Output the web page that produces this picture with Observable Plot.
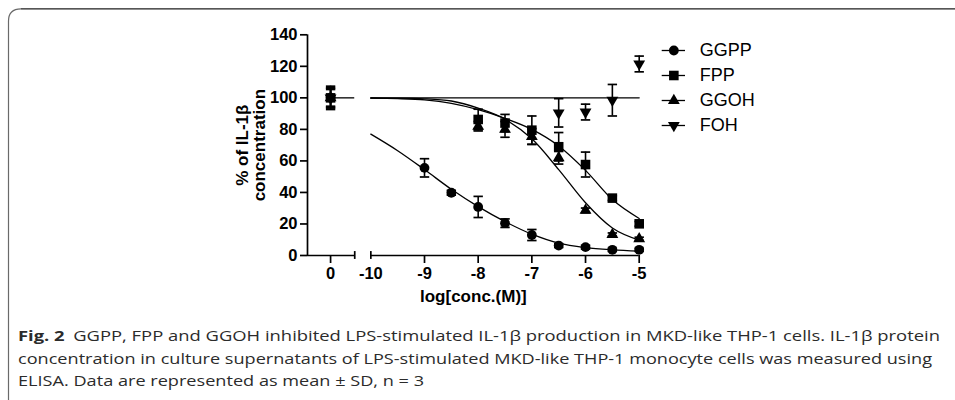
<!DOCTYPE html>
<html><head><meta charset="utf-8">
<script src="https://cdn.jsdelivr.net/npm/d3@7"></script>
<script src="https://cdn.jsdelivr.net/npm/@observablehq/plot@0.6"></script>
<style>
html,body{margin:0;padding:0;background:#fff;}
#wrap{position:relative;width:955px;height:400px;overflow:hidden;background:#fff;}
#chart{position:absolute;left:0;top:0;}
#legend{position:absolute;left:655px;top:30px;}
#overlay{position:absolute;left:0;top:0;pointer-events:none;}
</style></head><body>
<div id="wrap"><div id="chart"></div><div id="legend"></div>
<svg id="overlay" width="955" height="400" xmlns="http://www.w3.org/2000/svg">
  <path d="M8.5,400 L8.5,21 Q8.5,8.8 21,8.8" fill="none" stroke="#6a6a6a" stroke-width="1.2"/>
  <path d="M21,8.8 L955,8.8" fill="none" stroke="#1e1e1e" stroke-width="1.2"/>
  <g font-family="'Open Sans', 'Noto Sans', sans-serif" font-size="15" fill="#2b2b2b">
    <text x="18" y="341" textLength="922" lengthAdjust="spacingAndGlyphs"><tspan font-weight="bold">Fig. 2</tspan><tspan dx="7">GGPP, FPP and GGOH inhibited LPS-stimulated IL-1β production in MKD-like THP-1 cells. IL-1β protein</tspan></text>
    <text x="18" y="363.5" textLength="914" lengthAdjust="spacingAndGlyphs">concentration in culture supernatants of LPS-stimulated MKD-like THP-1 monocyte cells was measured using</text>
    <text x="18" y="386" textLength="406" lengthAdjust="spacingAndGlyphs">ELISA. Data are represented as mean ± SD, n = 3</text>
  </g>
</svg>
</div>
<script>
// ---- data ----
const seriesNames = ["GGPP", "FPP", "GGOH", "FOH"];

const doseGGPP = [-9, -8.5, -8, -7.5, -7, -6.5, -6, -5.5, -5];
const meanGGPP = [55.6, 39.8, 30.8, 20.5, 13.0, 6.3, 5.3, 3.6, 3.6];
const sdGGPP   = [5.8, 1.5, 6.7, 2.7, 3.5, 1.2, 1.2, 1.0, 1.0];

const doseFPP = [-8, -7.5, -7, -6.5, -6, -5.5, -5];
const meanFPP = [86.3, 84.0, 79.5, 69.0, 57.7, 36.4, 20.1];
const sdFPP   = [6.5, 5.5, 9.0, 9.0, 7.9, 1.5, 1.5];

const doseGGOH = [-8, -7.5, -7, -6.5, -6, -5.5, -5];
const meanGGOH = [82.0, 80.0, 75.5, 62.0, 28.6, 13.3, 10.6];
const sdGGOH   = [3.0, 5.0, 5.0, 4.0, 1.5, 1.0, 1.0];

const doseFOH = [-6.5, -6, -5.5, -5];
const meanFOH = [90.5, 91.0, 98.5, 121.5];
const sdFOH   = [9.0, 5.0, 10.0, 5.0];

// untreated control (x label "0")
const ctrlMean = [100, 100, 100, 100];
const ctrlSD   = [7.4, 5.3, 6.5, 6.0];

// fitted curves
const fitX    = [-10, -9.5, -9, -8.5, -8, -7.5, -7, -6.5, -6, -5.5, -5];
const fitGGPP = [77, 66.5, 54.5, 42, 31, 21.5, 13.5, 7.8, 5.0, 3.6, 2.8];
const fitFPP  = [99.8, 99.5, 98.7, 96.5, 92.5, 87, 80, 69.5, 54, 35.5, 23.5];
const fitGGOH = [99.9, 99.8, 99.4, 98, 93.5, 86.5, 74, 54.5, 33.5, 17.5, 9.8];
const fitFOH  = [100, 100, 100, 100, 100, 100, 100, 100, 100, 100, 100];

const xTickValues = [0, -10, -9, -8, -7, -6, -5];
const yTickValues = [0, 20, 40, 60, 80, 100, 120, 140];

// ---- broken x axis: virtual coordinate ----
const SEG1 = [-11.18, -10.30];   // control segment
const SEG2 = [-10, -5];          // log-dose segment
const CTRL_V = -10.75;           // where "0" sits
const vx = v => v === 0 ? CTRL_V : v;
const BREAK_HALF = 2.5;          // break mark half-height (y units)

// ---- symbols ----
const sqrt3 = Math.sqrt(3);
const triangleDown = {draw(ctx, size) {
  const y = -Math.sqrt(size / (sqrt3 * 3));
  ctx.moveTo(0, -y * 2); ctx.lineTo(-sqrt3 * y, y); ctx.lineTo(sqrt3 * y, y); ctx.closePath();
}};
const capSymbol = {draw(ctx) { ctx.moveTo(-4.7, 0); ctx.lineTo(4.7, 0); }};

const symbolOf = {GGPP: "circle", FPP: "square", GGOH: "triangle", FOH: triangleDown};
const radiusOf = {GGPP: 4.9, FPP: 5.4, GGOH: 4.4, FOH: 4.4};

// ---- rows ----
const seriesData = {
  GGPP: [doseGGPP, meanGGPP, sdGGPP],
  FPP: [doseFPP, meanFPP, sdFPP],
  GGOH: [doseGGOH, meanGGOH, sdGGOH],
  FOH: [doseFOH, meanFOH, sdFOH]
};
const fitData = {GGPP: fitGGPP, FPP: fitFPP, GGOH: fitGGOH, FOH: fitFOH};

const points = [];
seriesNames.forEach((s, k) => {
  points.push({series: s, x: vx(0), m: ctrlMean[k], sd: ctrlSD[k]});
  const [d, m, sd] = seriesData[s];
  d.forEach((x, i) => points.push({series: s, x: vx(x), m: m[i], sd: sd[i]}));
});
const fits = [];
seriesNames.forEach(s => fitX.forEach((x, i) => fits.push({series: s, x, y: fitData[s][i]})));

const drawOrder = ["FOH", "GGOH", "GGPP", "FPP"];
const AX = 1.7;

const marks = [
  // axis lines
  Plot.ruleY([0], {x1: SEG1[0], x2: SEG1[1], strokeWidth: AX}),
  Plot.ruleY([0], {x1: SEG2[0], x2: SEG2[1], strokeWidth: AX}),
  Plot.ruleX([SEG1[0]], {y1: yTickValues[0], y2: yTickValues[yTickValues.length - 1], strokeWidth: AX}),
  Plot.ruleX([SEG1[1], SEG2[0]], {y1: -BREAK_HALF, y2: BREAK_HALF, strokeWidth: AX}),
  Plot.axisY(yTickValues, {tickSize: 7, tickPadding: 3, strokeWidth: AX, label: null}),
  Plot.axisX(xTickValues.filter(v => v !== -10).map(vx), {tickSize: 8, tickPadding: 4, strokeWidth: AX,
    tickFormat: v => v === CTRL_V ? "0" : String(v), label: null}),
  Plot.axisX([-10], {tickSize: 0, tickPadding: 12, tickFormat: v => String(v), label: null}),
  // fitted curves
  ...seriesNames.map(s => Plot.line(fits.filter(d => d.series === s), {x: "x", y: "y", curve: "monotone-x", stroke: "black", strokeWidth: 1.3})),
  // control line
  Plot.ruleY([ctrlMean[0]], {x1: CTRL_V, x2: SEG1[1], stroke: "black", strokeWidth: 1.3}),
  // error bars
  Plot.ruleX(points, {x: "x", y1: d => d.m - d.sd, y2: d => d.m + d.sd, stroke: "black", strokeWidth: 1.6}),
  Plot.dot(points, {x: "x", y: d => d.m + d.sd, symbol: capSymbol, fill: "none", stroke: "black", strokeWidth: 1.7}),
  Plot.dot(points, {x: "x", y: d => d.m - d.sd, symbol: capSymbol, fill: "none", stroke: "black", strokeWidth: 1.7}),
  // markers
  ...drawOrder.map(s => Plot.dot(points.filter(d => d.series === s), {x: "x", y: "m", symbol: symbolOf[s], r: radiusOf[s], fill: "black", stroke: "none"})),
  // axis titles
  Plot.text(["log[conc.(M)]"], {frameAnchor: "bottom", dy: 41, lineAnchor: "middle", textAnchor: "middle", fontSize: 17, fontWeight: "bold"}),
  Plot.text(["% of IL-1β\nconcentration"], {frameAnchor: "left", rotate: -90, dx: -56, lineHeight: 1.0, lineAnchor: "middle", textAnchor: "middle", fontSize: 17, fontWeight: "bold"})
];

const chart = Plot.plot({
  width: 955, height: 310,
  marginLeft: 307, marginRight: 316.3, marginTop: 34.3, marginBottom: 55,
  x: {domain: [SEG1[0], SEG2[1]], axis: null},
  y: {domain: [yTickValues[0], yTickValues[yTickValues.length - 1]], axis: null},
  style: {fontFamily: "'Liberation Sans', Arial, sans-serif", fontSize: "16.5px", fontWeight: "bold", color: "black", background: "transparent"},
  marks
});
document.getElementById("chart").appendChild(chart);

// ---- legend ----
const legend = Plot.plot({
  width: 160, height: 110,
  marginLeft: 6.7, marginRight: 130, marginTop: 0, marginBottom: 0,
  x: {domain: [0, 1], axis: null},
  y: {type: "point", domain: seriesNames, range: [19.3, 95], padding: 0, axis: null},
  style: {fontFamily: "'Liberation Sans', Arial, sans-serif", fontSize: "18px", color: "black", background: "transparent"},
  marks: [
    Plot.tickY(seriesNames, {y: d => d, stroke: "black", strokeWidth: 1.3}),
    ...seriesNames.map(s => Plot.dot([s], {y: d => d, symbol: symbolOf[s], r: radiusOf[s], fill: "black", stroke: "none"})),
    Plot.text(seriesNames, {y: d => d, text: d => d, frameAnchor: "left", textAnchor: "start", dx: 37.6, fontSize: 18})
  ]
});
document.getElementById("legend").appendChild(legend);
</script>
</body></html>
